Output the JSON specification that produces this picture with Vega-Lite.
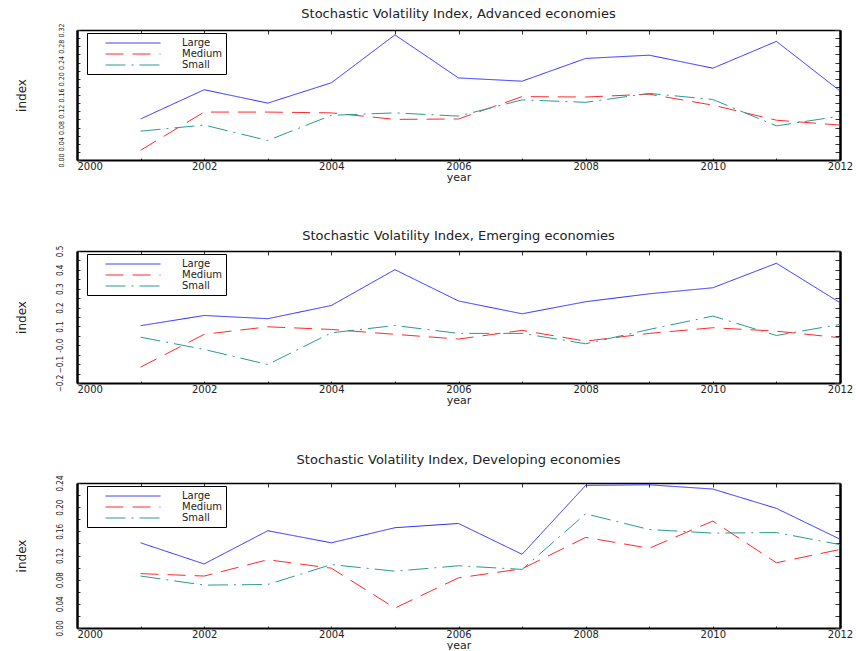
{
  "$schema": "https://vega.github.io/schema/vega-lite/v6.json",
  "padding": {"left": 14, "top": 7, "right": 5, "bottom": 0},
  "datasets": {
    "sv": [
      {"econ": "Advanced", "size": "Large", "year": 2001, "value": 0.101},
      {"econ": "Advanced", "size": "Large", "year": 2002, "value": 0.173},
      {"econ": "Advanced", "size": "Large", "year": 2003, "value": 0.140},
      {"econ": "Advanced", "size": "Large", "year": 2004, "value": 0.190},
      {"econ": "Advanced", "size": "Large", "year": 2005, "value": 0.308},
      {"econ": "Advanced", "size": "Large", "year": 2006, "value": 0.202},
      {"econ": "Advanced", "size": "Large", "year": 2007, "value": 0.194},
      {"econ": "Advanced", "size": "Large", "year": 2008, "value": 0.250},
      {"econ": "Advanced", "size": "Large", "year": 2009, "value": 0.258},
      {"econ": "Advanced", "size": "Large", "year": 2010, "value": 0.226},
      {"econ": "Advanced", "size": "Large", "year": 2011, "value": 0.292},
      {"econ": "Advanced", "size": "Large", "year": 2012, "value": 0.170},
      {"econ": "Advanced", "size": "Medium", "year": 2001, "value": 0.024},
      {"econ": "Advanced", "size": "Medium", "year": 2002, "value": 0.118},
      {"econ": "Advanced", "size": "Medium", "year": 2003, "value": 0.118},
      {"econ": "Advanced", "size": "Medium", "year": 2004, "value": 0.116},
      {"econ": "Advanced", "size": "Medium", "year": 2005, "value": 0.100},
      {"econ": "Advanced", "size": "Medium", "year": 2006, "value": 0.101},
      {"econ": "Advanced", "size": "Medium", "year": 2007, "value": 0.156},
      {"econ": "Advanced", "size": "Medium", "year": 2008, "value": 0.155},
      {"econ": "Advanced", "size": "Medium", "year": 2009, "value": 0.162},
      {"econ": "Advanced", "size": "Medium", "year": 2010, "value": 0.135},
      {"econ": "Advanced", "size": "Medium", "year": 2011, "value": 0.098},
      {"econ": "Advanced", "size": "Medium", "year": 2012, "value": 0.086},
      {"econ": "Advanced", "size": "Small", "year": 2001, "value": 0.071},
      {"econ": "Advanced", "size": "Small", "year": 2002, "value": 0.086},
      {"econ": "Advanced", "size": "Small", "year": 2003, "value": 0.048},
      {"econ": "Advanced", "size": "Small", "year": 2004, "value": 0.110},
      {"econ": "Advanced", "size": "Small", "year": 2005, "value": 0.116},
      {"econ": "Advanced", "size": "Small", "year": 2006, "value": 0.108},
      {"econ": "Advanced", "size": "Small", "year": 2007, "value": 0.148},
      {"econ": "Advanced", "size": "Small", "year": 2008, "value": 0.142},
      {"econ": "Advanced", "size": "Small", "year": 2009, "value": 0.164},
      {"econ": "Advanced", "size": "Small", "year": 2010, "value": 0.149},
      {"econ": "Advanced", "size": "Small", "year": 2011, "value": 0.084},
      {"econ": "Advanced", "size": "Small", "year": 2012, "value": 0.108},
      {"econ": "Emerging", "size": "Large", "year": 2001, "value": 0.104},
      {"econ": "Emerging", "size": "Large", "year": 2002, "value": 0.158},
      {"econ": "Emerging", "size": "Large", "year": 2003, "value": 0.141},
      {"econ": "Emerging", "size": "Large", "year": 2004, "value": 0.211},
      {"econ": "Emerging", "size": "Large", "year": 2005, "value": 0.401},
      {"econ": "Emerging", "size": "Large", "year": 2006, "value": 0.235},
      {"econ": "Emerging", "size": "Large", "year": 2007, "value": 0.167},
      {"econ": "Emerging", "size": "Large", "year": 2008, "value": 0.231},
      {"econ": "Emerging", "size": "Large", "year": 2009, "value": 0.273},
      {"econ": "Emerging", "size": "Large", "year": 2010, "value": 0.305},
      {"econ": "Emerging", "size": "Large", "year": 2011, "value": 0.435},
      {"econ": "Emerging", "size": "Large", "year": 2012, "value": 0.226},
      {"econ": "Emerging", "size": "Medium", "year": 2001, "value": -0.116},
      {"econ": "Emerging", "size": "Medium", "year": 2002, "value": 0.058},
      {"econ": "Emerging", "size": "Medium", "year": 2003, "value": 0.098},
      {"econ": "Emerging", "size": "Medium", "year": 2004, "value": 0.084},
      {"econ": "Emerging", "size": "Medium", "year": 2005, "value": 0.058},
      {"econ": "Emerging", "size": "Medium", "year": 2006, "value": 0.033},
      {"econ": "Emerging", "size": "Medium", "year": 2007, "value": 0.079},
      {"econ": "Emerging", "size": "Medium", "year": 2008, "value": 0.022},
      {"econ": "Emerging", "size": "Medium", "year": 2009, "value": 0.063},
      {"econ": "Emerging", "size": "Medium", "year": 2010, "value": 0.093},
      {"econ": "Emerging", "size": "Medium", "year": 2011, "value": 0.075},
      {"econ": "Emerging", "size": "Medium", "year": 2012, "value": 0.040},
      {"econ": "Emerging", "size": "Small", "year": 2001, "value": 0.043},
      {"econ": "Emerging", "size": "Small", "year": 2002, "value": -0.022},
      {"econ": "Emerging", "size": "Small", "year": 2003, "value": -0.102},
      {"econ": "Emerging", "size": "Small", "year": 2004, "value": 0.066},
      {"econ": "Emerging", "size": "Small", "year": 2005, "value": 0.105},
      {"econ": "Emerging", "size": "Small", "year": 2006, "value": 0.063},
      {"econ": "Emerging", "size": "Small", "year": 2007, "value": 0.063},
      {"econ": "Emerging", "size": "Small", "year": 2008, "value": 0.008},
      {"econ": "Emerging", "size": "Small", "year": 2009, "value": 0.084},
      {"econ": "Emerging", "size": "Small", "year": 2010, "value": 0.155},
      {"econ": "Emerging", "size": "Small", "year": 2011, "value": 0.052},
      {"econ": "Emerging", "size": "Small", "year": 2012, "value": 0.111},
      {"econ": "Developing", "size": "Large", "year": 2001, "value": 0.141},
      {"econ": "Developing", "size": "Large", "year": 2002, "value": 0.106},
      {"econ": "Developing", "size": "Large", "year": 2003, "value": 0.161},
      {"econ": "Developing", "size": "Large", "year": 2004, "value": 0.141},
      {"econ": "Developing", "size": "Large", "year": 2005, "value": 0.166},
      {"econ": "Developing", "size": "Large", "year": 2006, "value": 0.173},
      {"econ": "Developing", "size": "Large", "year": 2007, "value": 0.122},
      {"econ": "Developing", "size": "Large", "year": 2008, "value": 0.236},
      {"econ": "Developing", "size": "Large", "year": 2009, "value": 0.237},
      {"econ": "Developing", "size": "Large", "year": 2010, "value": 0.230},
      {"econ": "Developing", "size": "Large", "year": 2011, "value": 0.198},
      {"econ": "Developing", "size": "Large", "year": 2012, "value": 0.147},
      {"econ": "Developing", "size": "Medium", "year": 2001, "value": 0.090},
      {"econ": "Developing", "size": "Medium", "year": 2002, "value": 0.086},
      {"econ": "Developing", "size": "Medium", "year": 2003, "value": 0.113},
      {"econ": "Developing", "size": "Medium", "year": 2004, "value": 0.099},
      {"econ": "Developing", "size": "Medium", "year": 2005, "value": 0.033},
      {"econ": "Developing", "size": "Medium", "year": 2006, "value": 0.083},
      {"econ": "Developing", "size": "Medium", "year": 2007, "value": 0.098},
      {"econ": "Developing", "size": "Medium", "year": 2008, "value": 0.150},
      {"econ": "Developing", "size": "Medium", "year": 2009, "value": 0.132},
      {"econ": "Developing", "size": "Medium", "year": 2010, "value": 0.177},
      {"econ": "Developing", "size": "Medium", "year": 2011, "value": 0.108},
      {"econ": "Developing", "size": "Medium", "year": 2012, "value": 0.130},
      {"econ": "Developing", "size": "Small", "year": 2001, "value": 0.086},
      {"econ": "Developing", "size": "Small", "year": 2002, "value": 0.071},
      {"econ": "Developing", "size": "Small", "year": 2003, "value": 0.072},
      {"econ": "Developing", "size": "Small", "year": 2004, "value": 0.105},
      {"econ": "Developing", "size": "Small", "year": 2005, "value": 0.094},
      {"econ": "Developing", "size": "Small", "year": 2006, "value": 0.103},
      {"econ": "Developing", "size": "Small", "year": 2007, "value": 0.097},
      {"econ": "Developing", "size": "Small", "year": 2008, "value": 0.189},
      {"econ": "Developing", "size": "Small", "year": 2009, "value": 0.163},
      {"econ": "Developing", "size": "Small", "year": 2010, "value": 0.157},
      {"econ": "Developing", "size": "Small", "year": 2011, "value": 0.158},
      {"econ": "Developing", "size": "Small", "year": 2012, "value": 0.138}
    ]
  },
  "data": {"name": "sv"},
  "spacing": 48,
  "resolve": {"scale": {"color": "independent", "strokeDash": "independent"}},
  "vconcat": [
    {
      "title": {"text": "Stochastic Volatility Index, Advanced economies", "offset": 2},
      "width": 763,
      "height": 130,
      "transform": [{"filter": "datum.econ == 'Advanced'"}],
      "layer": [
        {
          "mark": {"type": "line", "strokeWidth": 1},
          "encoding": {
            "x": {"field": "year", "type": "quantitative", "scale": {"domain": [2000, 2012], "nice": false, "zero": false},
                  "axis": {"orient": "bottom", "values": [2000, 2001, 2002, 2003, 2004, 2005, 2006, 2007, 2008, 2009, 2010, 2011, 2012], "format": "d", "labelExpr": "datum.value % 2 == 0 ? datum.label : ''", "labelAlign": {"condition": {"test": "datum.value == 2000", "value": "left"}, "value": "center"}, "tickSize": -2, "labelPadding": 3, "domainWidth": 2, "title": "year", "titlePadding": 0, "labelFlush": false}},
            "y": {"field": "value", "type": "quantitative", "scale": {"domain": [0, 0.32], "nice": false, "zero": false},
                  "axis": {"orient": "left", "values": [0, 0.02, 0.04, 0.06, 0.08, 0.1, 0.12, 0.14, 0.16, 0.18, 0.2, 0.22, 0.24, 0.26, 0.28, 0.3, 0.32], "labelExpr": "round(datum.value * 100) % 4 == 0 ? format(datum.value, '.2f') : ''", "labelAngle": -90, "labelFontSize": 7, "tickSize": -3, "labelPadding": 16, "domainWidth": 2.5, "title": "index", "titlePadding": 29}},
            "color": {"field": "size", "type": "nominal", "scale": {"domain": ["Large", "Medium", "Small"], "range": ["#2a2aff", "#ff2a2a", "#2a9a92"]}, "legend": {"title": null}},
            "strokeDash": {"field": "size", "type": "nominal", "scale": {"domain": ["Large", "Medium", "Small"], "range": [[1, 0], [18, 9], [20, 6, 2, 6]]}, "legend": {"title": null}}
          }
        },
        {
          "mark": {"type": "line", "opacity": 0},
          "encoding": {
            "x": {"field": "year", "type": "quantitative", "axis": {"orient": "top", "values": [2000, 2001, 2002, 2003, 2004, 2005, 2006, 2007, 2008, 2009, 2010, 2011, 2012], "labels": false, "title": null, "tickSize": -4, "domainWidth": 1.5}},
            "y": {"field": "value", "type": "quantitative", "axis": {"orient": "right", "values": [0, 0.02, 0.04, 0.06, 0.08, 0.1, 0.12, 0.14, 0.16, 0.18, 0.2, 0.22, 0.24, 0.26, 0.28, 0.3, 0.32], "labels": false, "title": null, "tickSize": -5, "domainWidth": 2.5}},
            "detail": {"field": "size"}
          }
        }
      ]
    },
    {
      "title": {"text": "Stochastic Volatility Index, Emerging economies", "offset": 2},
      "width": 763,
      "height": 132,
      "transform": [{"filter": "datum.econ == 'Emerging'"}],
      "layer": [
        {
          "mark": {"type": "line", "strokeWidth": 1},
          "encoding": {
            "x": {"field": "year", "type": "quantitative", "scale": {"domain": [2000, 2012], "nice": false, "zero": false},
                  "axis": {"orient": "bottom", "values": [2000, 2001, 2002, 2003, 2004, 2005, 2006, 2007, 2008, 2009, 2010, 2011, 2012], "format": "d", "labelExpr": "datum.value % 2 == 0 ? datum.label : ''", "labelAlign": {"condition": {"test": "datum.value == 2000", "value": "left"}, "value": "center"}, "tickSize": -2, "labelPadding": 3, "domainWidth": 2, "title": "year", "titlePadding": 0, "labelFlush": false}},
            "y": {"field": "value", "type": "quantitative", "scale": {"domain": [-0.2, 0.5], "nice": false, "zero": false},
                  "axis": {"orient": "left", "values": [-0.2, -0.15, -0.1, -0.05, 0, 0.05, 0.1, 0.15, 0.2, 0.25, 0.3, 0.35, 0.4, 0.45, 0.5], "labelExpr": "round(datum.value * 100) % 10 == 0 ? (round(datum.value * 100) == 0 ? '-0.0' : format(datum.value, '.1f')) : ''", "labelAngle": -90, "tickSize": -3, "labelPadding": 16, "domainWidth": 2.5, "title": "index", "titlePadding": 28}},
            "color": {"field": "size", "type": "nominal", "scale": {"domain": ["Large", "Medium", "Small"], "range": ["#2a2aff", "#ff2a2a", "#2a9a92"]}, "legend": {"title": null}},
            "strokeDash": {"field": "size", "type": "nominal", "scale": {"domain": ["Large", "Medium", "Small"], "range": [[1, 0], [18, 9], [20, 6, 2, 6]]}, "legend": {"title": null}}
          }
        },
        {
          "mark": {"type": "line", "opacity": 0},
          "encoding": {
            "x": {"field": "year", "type": "quantitative", "axis": {"orient": "top", "values": [2000, 2001, 2002, 2003, 2004, 2005, 2006, 2007, 2008, 2009, 2010, 2011, 2012], "labels": false, "title": null, "tickSize": -4, "domainWidth": 1.5}},
            "y": {"field": "value", "type": "quantitative", "axis": {"orient": "right", "values": [-0.2, -0.15, -0.1, -0.05, 0, 0.05, 0.1, 0.15, 0.2, 0.25, 0.3, 0.35, 0.4, 0.45, 0.5], "labels": false, "title": null, "tickSize": -5, "domainWidth": 2.5}},
            "detail": {"field": "size"}
          }
        }
      ]
    },
    {
      "title": {"text": "Stochastic Volatility Index, Developing economies", "offset": 8},
      "width": 763,
      "height": 145,
      "transform": [{"filter": "datum.econ == 'Developing'"}],
      "layer": [
        {
          "mark": {"type": "line", "strokeWidth": 1},
          "encoding": {
            "x": {"field": "year", "type": "quantitative", "scale": {"domain": [2000, 2012], "nice": false, "zero": false},
                  "axis": {"orient": "bottom", "values": [2000, 2001, 2002, 2003, 2004, 2005, 2006, 2007, 2008, 2009, 2010, 2011, 2012], "format": "d", "labelExpr": "datum.value % 2 == 0 ? datum.label : ''", "labelAlign": {"condition": {"test": "datum.value == 2000", "value": "left"}, "value": "center"}, "tickSize": -2, "labelPadding": 3, "domainWidth": 2, "title": "year", "titlePadding": 0, "labelFlush": false}},
            "y": {"field": "value", "type": "quantitative", "scale": {"domain": [0, 0.24], "nice": false, "zero": false},
                  "axis": {"orient": "left", "values": [0, 0.02, 0.04, 0.06, 0.08, 0.1, 0.12, 0.14, 0.16, 0.18, 0.2, 0.22, 0.24], "labelExpr": "round(datum.value * 100) % 4 == 0 ? format(datum.value, '.2f') : ''", "labelAngle": -90, "tickSize": -3, "labelPadding": 16, "domainWidth": 2.5, "title": "index", "titlePadding": 28}},
            "color": {"field": "size", "type": "nominal", "scale": {"domain": ["Large", "Medium", "Small"], "range": ["#2a2aff", "#ff2a2a", "#2a9a92"]}, "legend": {"title": null}},
            "strokeDash": {"field": "size", "type": "nominal", "scale": {"domain": ["Large", "Medium", "Small"], "range": [[1, 0], [18, 9], [20, 6, 2, 6]]}, "legend": {"title": null}}
          }
        },
        {
          "mark": {"type": "line", "opacity": 0},
          "encoding": {
            "x": {"field": "year", "type": "quantitative", "axis": {"orient": "top", "values": [2000, 2001, 2002, 2003, 2004, 2005, 2006, 2007, 2008, 2009, 2010, 2011, 2012], "labels": false, "title": null, "tickSize": -4, "domainWidth": 1.5}},
            "y": {"field": "value", "type": "quantitative", "axis": {"orient": "right", "values": [0, 0.02, 0.04, 0.06, 0.08, 0.1, 0.12, 0.14, 0.16, 0.18, 0.2, 0.22, 0.24], "labels": false, "title": null, "tickSize": -5, "domainWidth": 2.5}},
            "detail": {"field": "size"}
          }
        }
      ]
    }
  ],
  "config": {
    "font": "DejaVu Sans",
    "view": {"stroke": null},
    "axis": {"grid": false, "domainColor": "black", "tickColor": "#333", "labelColor": "#222", "labelFontSize": 10, "titleFontSize": 11, "titleFontWeight": "normal", "titleColor": "#222", "labelFont": "DejaVu Sans", "titleFont": "DejaVu Sans", "labelOverlap": false},
    "axisLeft": {"labelFont": "Liberation Sans Narrow, DejaVu Sans Condensed, Liberation Sans", "labelFontSize": 8, "titleFontSize": 12},
    "title": {"fontSize": 13, "fontWeight": "normal", "color": "#222", "font": "DejaVu Sans", "anchor": "middle"},
    "legend": {"orient": "none", "legendX": 10, "legendY": 3, "strokeColor": "black", "strokeWidth": 1, "fillColor": "white", "padding": 4, "labelFontSize": 10, "labelColor": "#222", "symbolType": "M-5,0H5", "symbolSize": 121, "symbolStrokeWidth": 1, "symbolOffset": 36, "labelOffset": 43, "rowPadding": 0}
  }
}
